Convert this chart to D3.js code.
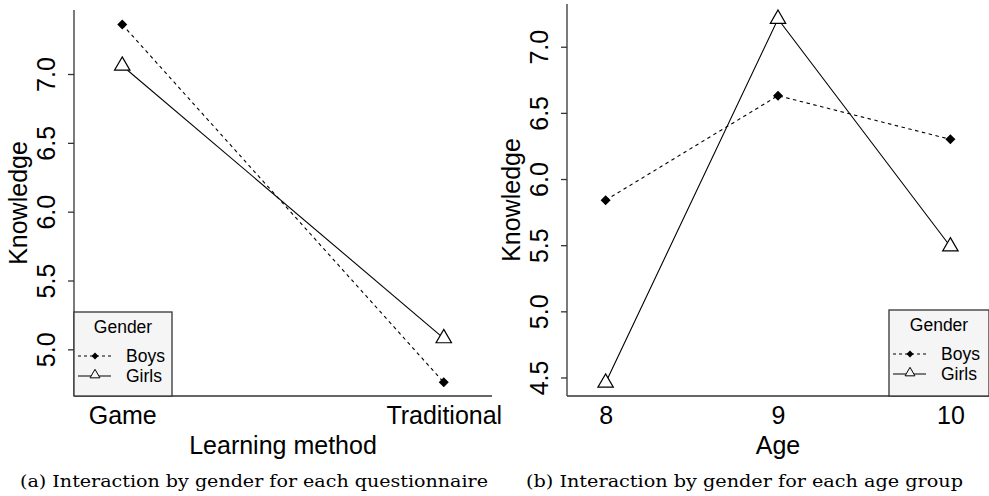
<!DOCTYPE html>
<html>
<head>
<meta charset="utf-8">
<script src="https://cdn.jsdelivr.net/npm/d3@7/dist/d3.min.js"></script>
<style>
  html, body { margin: 0; padding: 0; background: #fff; }
  svg { display: block; }
  text { font-family: "Liberation Sans", Arial, sans-serif; fill: #000; }
  .cap { font-family: "DejaVu Serif", "Liberation Serif", serif; }
</style>
</head>
<body>
<svg id="chart" width="989" height="496"></svg>
<script>
// ---- Data ----
const methods = ["Game", "Traditional"];
const boysMethod = [7.36, 4.76];
const girlsMethod = [7.06, 5.08];
const yTicksA = [5.0, 5.5, 6.0, 6.5, 7.0];

const ages = [8, 9, 10];
const boysAge = [5.84, 6.63, 6.30];
const girlsAge = [4.46, 7.21, 5.49];
const yTicksB = [4.5, 5.0, 5.5, 6.0, 6.5, 7.0];

const seriesNames = ["Boys", "Girls"];
const legendTitle = "Gender";
const captions = ["(a) Interaction by gender for each questionnaire", "(b) Interaction by gender for each age group"];
const xTitles = ["Learning method", "Age"];
const yTitle = "Knowledge";

const svg = d3.select("#chart");
const axisColor = "#333";
const FS = "25px";

const diamond = d3.symbol().type(d3.symbolSquare);
const tri = d3.symbol().type(d3.symbolTriangle);

function panel(cfg) {
  const g = svg.append("g");
  const x = d3.scaleLinear().domain(cfg.xDomain).range([cfg.left, cfg.right]);
  const y = d3.scaleLinear().domain(cfg.yDomain).range([cfg.bottom, cfg.top]);

  // L-shaped frame
  g.append("line").attr("x1", cfg.left).attr("x2", cfg.left).attr("y1", cfg.top).attr("y2", cfg.bottom)
    .attr("stroke", axisColor).attr("stroke-width", 1.3);
  g.append("line").attr("x1", cfg.left).attr("x2", cfg.right).attr("y1", cfg.bottom).attr("y2", cfg.bottom)
    .attr("stroke", axisColor).attr("stroke-width", 1.3);

  // Y axis ticks via d3 axis
  const ya = d3.axisLeft(y).tickValues(cfg.yTicks).tickFormat(d3.format(".1f")).tickSize(6).tickPadding(0);
  const yg = g.append("g").attr("transform", `translate(${cfg.left},0)`).call(ya);
  yg.select(".domain").remove();
  yg.selectAll(".tick line").attr("stroke", axisColor).attr("stroke-width", 1.3);
  yg.selectAll(".tick text")
    .attr("x", null).attr("dy", null)
    .attr("transform", `translate(${-19},0) rotate(-90)`)
    .attr("text-anchor", "middle")
    .style("font-size", FS)
    .style("font-family", "Liberation Sans, Arial, sans-serif")
    .attr("fill", "#000");

  // X tick labels
  const xa = d3.axisBottom(x).tickValues(cfg.xVals).tickFormat((d, i) => cfg.xLabels[i]).tickSize(0).tickPadding(0);
  const xg = g.append("g").attr("transform", `translate(0,${cfg.bottom})`).call(xa);
  xg.select(".domain").remove();
  xg.selectAll(".tick text").attr("dy", null).attr("y", 28)
    .style("font-size", FS).style("font-family", "Liberation Sans, Arial, sans-serif").attr("fill", "#000");

  // Axis titles
  g.append("text").attr("x", (cfg.left + cfg.right) / 2).attr("y", 454)
    .attr("text-anchor", "middle").style("font-size", FS).text(cfg.xTitle);
  g.append("text").attr("transform", `translate(${cfg.left - 47},${(cfg.top + cfg.bottom) / 2}) rotate(-90)`)
    .attr("text-anchor", "middle").style("font-size", FS).text(yTitle);

  // Lines
  const line = d3.line().x((d, i) => x(cfg.xVals[i])).y(d => y(d));
  g.append("path").datum(cfg.boys).attr("d", line).attr("fill", "none")
    .attr("stroke", "#000").attr("stroke-width", 1.1).attr("stroke-dasharray", "3.5,3.5");
  g.append("path").datum(cfg.girls).attr("d", line).attr("fill", "none")
    .attr("stroke", "#000").attr("stroke-width", 1.1);

  // Markers
  g.selectAll(".bm").data(cfg.boys).enter().append("path")
    .attr("d", diamond.size(50)())
    .attr("transform", (d, i) => `translate(${x(cfg.xVals[i])},${y(d)}) rotate(45)`)
    .attr("fill", "#000");
  g.selectAll(".gm").data(cfg.girls).enter().append("path")
    .attr("d", tri.size(103)())
    .attr("transform", (d, i) => `translate(${x(cfg.xVals[i])},${y(d)})`)
    .attr("fill", "#fff").attr("stroke", "#000").attr("stroke-width", 1.2);

  // Legend
  const L = cfg.legend;
  const lg = g.append("g");
  lg.append("rect").attr("x", L.x).attr("y", L.y).attr("width", L.w).attr("height", L.h)
    .attr("fill", "#f5f5f5").attr("stroke", axisColor).attr("stroke-width", 1.3);
  lg.append("text").attr("x", L.x + L.w / 2).attr("y", L.y + 21).attr("text-anchor", "middle")
    .style("font-size", "17.5px").text(legendTitle);
  seriesNames.forEach((name, i) => {
    const ly = L.y + 44 + i * 20;
    lg.append("line").attr("x1", L.x + 4).attr("x2", L.x + 37).attr("y1", ly).attr("y2", ly)
      .attr("stroke", "#000").attr("stroke-width", 1).attr("stroke-dasharray", i === 0 ? "3,3" : null);
    if (i === 0) {
      lg.append("path").attr("d", diamond.size(24)()).attr("transform", `translate(${L.x + 21},${ly}) rotate(45)`).attr("fill", "#000");
    } else {
      lg.append("path").attr("d", tri.size(42)()).attr("transform", `translate(${L.x + 21},${ly - 1})`)
        .attr("fill", "#f5f5f5").attr("stroke", "#000").attr("stroke-width", 1);
    }
    lg.append("text").attr("x", L.x + 52).attr("y", ly + 6).style("font-size", "17.5px").text(name);
  });

  // Caption
  g.append("text").attr("class", "cap").attr("x", cfg.capX).attr("y", 487)
    .style("font-size", "16px").attr("textLength", cfg.capW).attr("lengthAdjust", "spacingAndGlyphs")
    .text(cfg.caption);
}

panel({
  left: 74, right: 492, top: 10, bottom: 396,
  xDomain: [0.85, 2.15], yDomain: [4.661, 7.465],
  xVals: [1, 2], xLabels: methods, yTicks: yTicksA,
  boys: boysMethod, girls: girlsMethod,
  xTitle: xTitles[0], caption: captions[0], capX: 20, capW: 468,
  legend: { x: 74, y: 312, w: 98, h: 84 }
});

panel({
  left: 567, right: 989, top: 4, bottom: 396,
  xDomain: [7.776, 10.224], yDomain: [4.36, 7.323],
  xVals: ages, xLabels: ages.map(String), yTicks: yTicksB,
  boys: boysAge, girls: girlsAge,
  xTitle: xTitles[1], caption: captions[1], capX: 526, capW: 437,
  legend: { x: 889, y: 310, w: 100, h: 86 }
});
</script>
</body>
</html>
